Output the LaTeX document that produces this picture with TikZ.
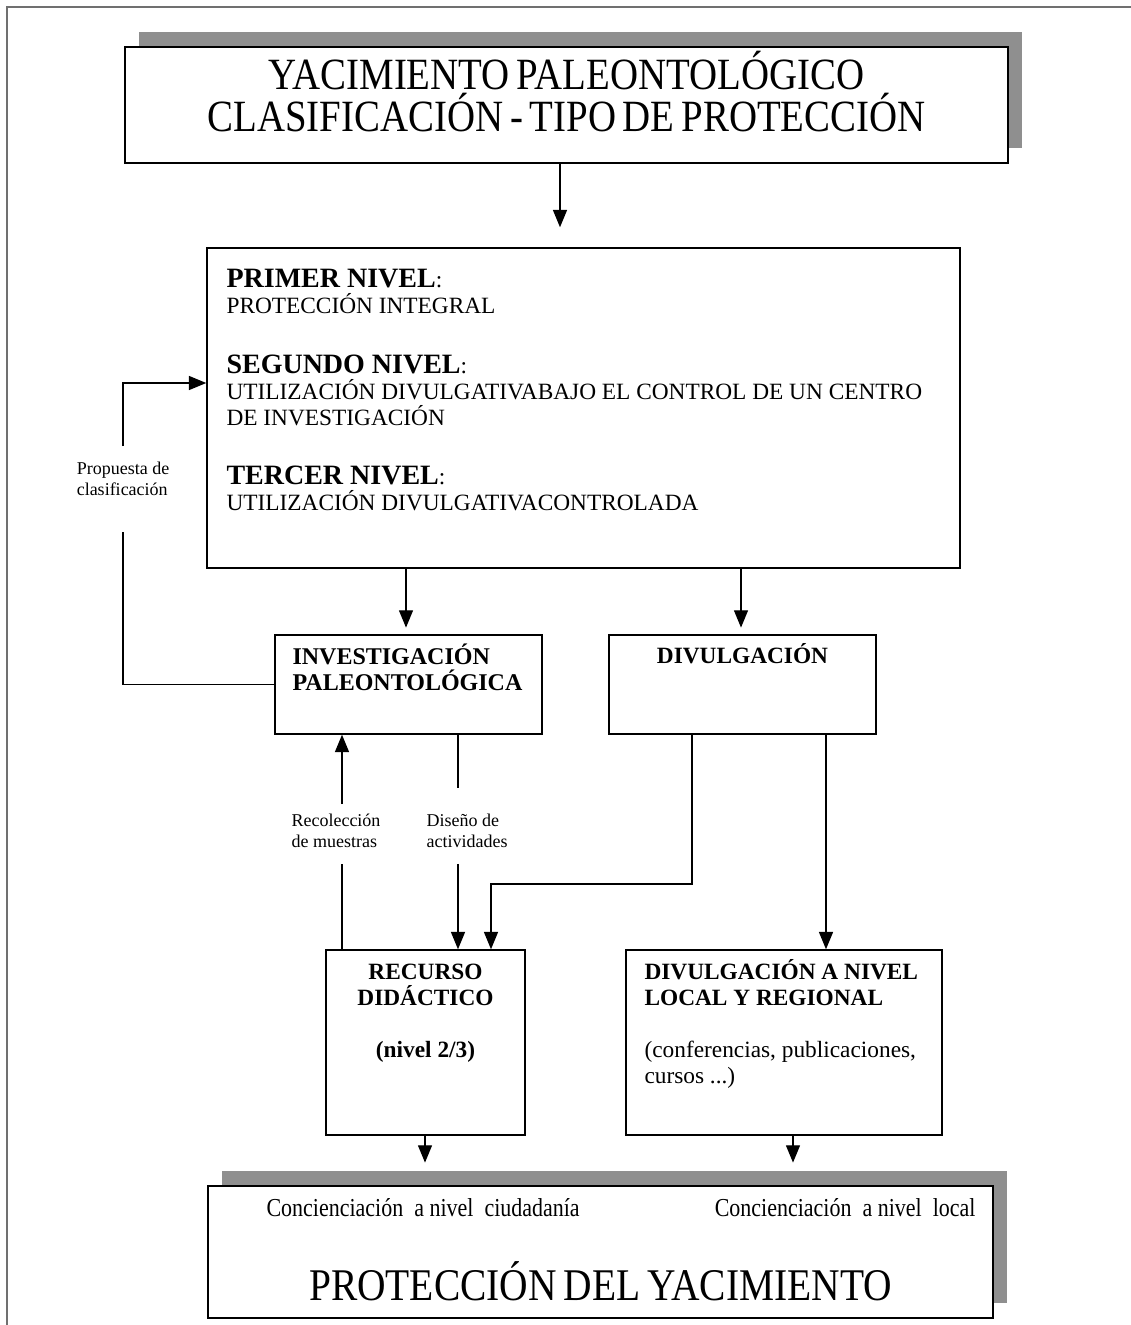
\documentclass[tikz,border=0pt]{standalone}
\usepackage{fontspec}
\setmainfont{Liberation Serif}
\newfontfamily\estrecha[FakeStretch=0.87, WordSpace=0.7]{Liberation Serif}
\newfontfamily\angosta[FakeStretch=0.85]{Liberation Serif}
\usetikzlibrary{arrows.meta,shadows}
\definecolor{sombra}{HTML}{8F8F8F}
\definecolor{marco}{HTML}{707070}
\tikzset{
  caja/.style={draw, line width=1.1pt, inner sep=0pt},
  sombreada/.style={caja, fill=white, general shadow={shadow xshift=10.5pt, shadow yshift=11.25pt, fill=sombra, opacity=1}},
  flecha/.style={line width=1pt, -{Triangle[length=13pt,width=10.5pt]}},
  linea/.style={line width=1pt},
  etiqueta/.style={font=\fontsize{13.5}{15.5}\selectfont, align=left, inner sep=0pt},
  texto/.style={inner sep=0pt, font=\fontsize{17.5}{19.5}\selectfont},
  negrita/.style={inner sep=0pt, font=\bfseries\fontsize{17.5}{19.5}\selectfont}
}
\begin{document}
\begin{tikzpicture}[x=0.75pt, y=-0.75pt]
\useasboundingbox (0,0) rectangle (1131,1325);
\draw[marco, line width=1.5pt] (7,1325) -- (7,7) -- (1131,7);

% cajas
\node[sombreada, minimum width=662.25pt, minimum height=87pt] (titulo) at (566.5,105) {};
\node[inner sep=0pt, align=center, font={\estrecha\fontsize{33.5}{31.5}\selectfont}] (titular) at ([yshift=10pt]titulo.center) {YACIMIENTO PALEONTOLÓGICO\\CLASIFICACIÓN - TIPO DE PROTECCIÓN};

\node[caja, minimum width=564.75pt, minimum height=240pt] (niveles) at (583.5,408) {};
\node[texto, anchor=north west, align=left] (textoniveles) at ([shift={(20,22)}]niveles.north west) {%
  \textbf{\fontsize{21}{19.5}\selectfont PRIMER NIVEL}:\\
  PROTECCIÓN INTEGRAL\\[25pt]
  \textbf{\fontsize{21}{19.5}\selectfont SEGUNDO NIVEL}:\\
  UTILIZACIÓN DIVULGATIVABAJO EL CONTROL DE UN CENTRO\\
  DE INVESTIGACIÓN\\[25pt]
  \textbf{\fontsize{21}{19.5}\selectfont TERCER NIVEL}:\\
  UTILIZACIÓN DIVULGATIVACONTROLADA};

\node[caja, minimum width=200.25pt, minimum height=74.25pt] (investigacion) at (408.5,684.5) {};
\node[negrita, anchor=north west, align=left, font=\bfseries\fontsize{18}{19.5}\selectfont] at ([shift={(18,9)}]investigacion.north west) {INVESTIGACIÓN\\PALEONTOLÓGICA};

\node[caja, minimum width=200.25pt, minimum height=74.25pt] (divulgacion) at (742.5,684.5) {};
\node[negrita, anchor=base] at ([yshift=-21.75pt]divulgacion.north) {DIVULGACIÓN};

\node[caja, minimum width=149.25pt, minimum height=138.75pt] (recurso) at (425.5,1042.5) {};
\node[negrita, anchor=north, align=center] at ([yshift=-11.25pt]recurso.north) {RECURSO\\DIDÁCTICO\\[19pt](nivel 2/3)};

\node[caja, minimum width=237pt, minimum height=138.75pt] (divlocal) at (784,1042.5) {};
\node[texto, anchor=north west, align=left] at ([shift={(19,10)}]divlocal.north west) {%
  \textbf{DIVULGACIÓN A NIVEL}\\
  \textbf{LOCAL Y REGIONAL}\\[19.5pt]
  (conferencias, publicaciones,\\
  cursos ...)};

\node[sombreada, minimum width=588.75pt, minimum height=99pt] (proteccion) at (600.5,1252) {};
\node[inner sep=0pt, anchor=base west, font=\angosta\fontsize{19.4}{24}\selectfont] at ([shift={(59,31)}]proteccion.north west) {Concienciación\ \ a nivel\ \ ciudadanía};
\node[inner sep=0pt, anchor=base east, font=\angosta\fontsize{19.4}{24}\selectfont] at ([shift={(-18,31)}]proteccion.north east) {Concienciación\ \ a nivel\ \ local};
\node[inner sep=0pt, anchor=base, font=\estrecha\fontsize{34}{40}\selectfont] at ([yshift=13.5pt]proteccion.south) {PROTECCIÓN DEL YACIMIENTO};

% etiquetas
\node[etiqueta] (propuesta) at (123,479) {Propuesta de\\clasificación};
\node[etiqueta] (recoleccion) at (336,831) {Recolección\\de muestras};
\node[etiqueta] (diseno) at (467,831) {Diseño de\\actividades};

% conectores
\draw[flecha, shorten >=15pt] (titulo.south -| 560,0) -- (niveles.north -| 560,0);
\draw[flecha, shorten >=5pt] (niveles.south -| 406,0) -- (investigacion.north -| 406,0);
\draw[flecha, shorten >=5pt] (niveles.south -| 741,0) -- (divulgacion.north -| 741,0);
\draw[linea, shorten >=27pt] (investigacion.west) -| (propuesta.south);
\draw[flecha, shorten <=12pt] (propuesta.north) |- (niveles.west |- 0,383);
\draw[linea, shorten >=12pt] (recurso.north -| 342,0) -- (recoleccion.south -| 342,0);
\draw[flecha, shorten <=7.5pt] (recoleccion.north -| 342,0) -- (investigacion.south -| 342,0);
\draw[linea, shorten >=19.5pt] (investigacion.south -| 458,0) -- (diseno.north -| 458,0);
\draw[flecha, shorten <=12pt] (diseno.south -| 458,0) -- (recurso.north -| 458,0);
\draw[flecha] (divulgacion.south -| 692,0) -- (692,884) -- (491,884) -- (recurso.north -| 491,0);
\draw[flecha] (divulgacion.south -| 826,0) -- (divlocal.north -| 826,0);
\draw[flecha, shorten >=17pt] (recurso.south -| 425,0) -- (proteccion.north -| 425,0);
\draw[flecha, shorten >=17pt] (divlocal.south -| 793,0) -- (proteccion.north -| 793,0);
\end{tikzpicture}
\end{document}
